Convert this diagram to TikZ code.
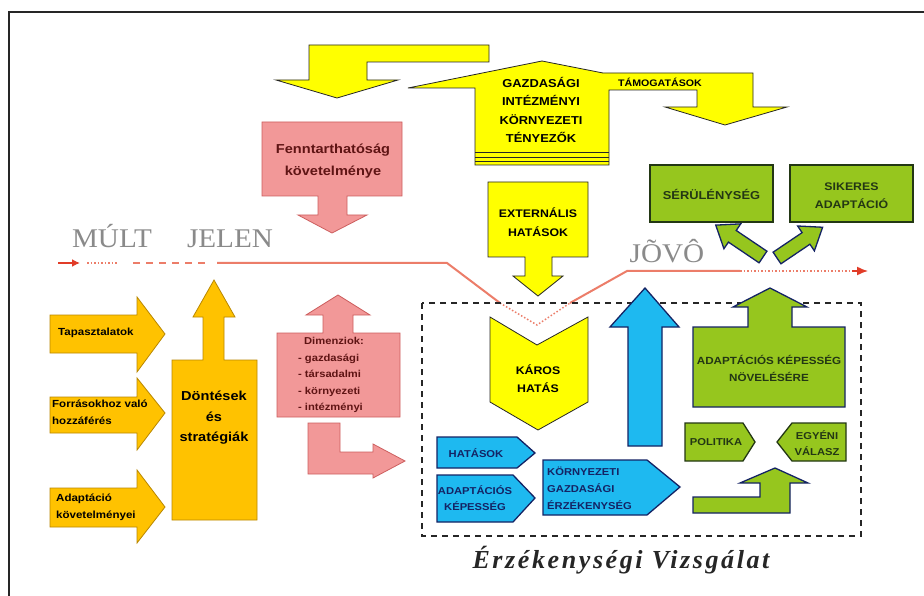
\documentclass[tikz,border=0pt]{standalone}
\usepackage{fontspec}
\usetikzlibrary{arrows.meta}
\setmainfont{Liberation Serif}
\setsansfont{Liberation Sans}
\newfontfamily\lab{Liberation Sans}[FakeStretch=1.12]
\newfontfamily\ttl{Liberation Serif}[LetterSpace=10]
\newfontfamily\erafont{Liberation Serif}[FakeStretch=1.08]
\definecolor{cyel}{RGB}{255,255,0}
\definecolor{cgold}{RGB}{255,194,0}
\definecolor{cgoldd}{RGB}{185,135,0}
\definecolor{cpink}{RGB}{242,152,152}
\definecolor{cpinkd}{RGB}{205,95,95}
\definecolor{cblue}{RGB}{30,185,240}
\definecolor{cnavy}{RGB}{20,35,100}
\definecolor{cgreen}{RGB}{150,198,30}
\definecolor{cgreend}{RGB}{35,55,20}
\definecolor{cline}{RGB}{236,125,105}
\definecolor{cred}{RGB}{225,60,40}
\definecolor{cgray}{RGB}{138,138,138}
\definecolor{ctxtp}{RGB}{95,20,20}
\begin{document}
\begin{tikzpicture}[x=1pt,y=-1pt,
  ybox/.style={fill=cyel,draw=black!85,line width=0.8},
  goldbox/.style={fill=cgold,draw=cgoldd,line width=0.8},
  pbox/.style={fill=cpink,draw=cpinkd,line width=0.8},
  bluebox/.style={fill=cblue,draw=cnavy,line width=1.3},
  grbox/.style={fill=cgreen,draw=cgreend,line width=1.3},
  grarr/.style={fill=cgreen,draw=cnavy,line width=1.3},
  tline/.style={draw=cline,line width=2},
  txt/.style={inner sep=0,align=center,font=\lab\bfseries\fontsize{#1}{#1}\selectfont},
  era/.style={inner sep=0,anchor=base,text=cgray,font=\erafont\fontsize{27}{27}\selectfont}]
\useasboundingbox (0,0) rectangle (924,596);
\fill[white] (0,0) rectangle (924,596);
% frame
\draw[black!85,line width=2] (9,610) -- (9,12) -- (940,12);

% top left yellow arrow
\draw[ybox] (489,45) -- (309,45) -- (309,80) -- (276,80) -- (337,98) -- (398,80) -- (367,80) -- (367,62) -- (489,62) -- cycle;
% central yellow up arrow with TAMOGATASOK arrow
\draw[ybox] (475,165) -- (475,88) -- (408,88) -- (542,61) -- (603,73) -- (753,73) -- (753,107) -- (787,107) -- (725,125) -- (665,107) -- (697,107) -- (697,90) -- (609,90) -- (609,165) -- cycle;
\draw[black!85,line width=0.8] (475,152) -- (609,152) (475,157) -- (609,157) (475,161) -- (609,161);
\node[txt=11.5,text=black,font=\lab\bfseries\fontsize{11.5}{18.5}\selectfont] (gazd) at (541,110) {GAZDASÁGI\\INTÉZMÉNYI\\KÖRNYEZETI\\TÉNYEZŐK};
\node[txt=9.5,text=black] (tam) at (660,82) {TÁMOGATÁSOK};

% Fenntarthatosag
\draw[pbox] (262,122) -- (402,122) -- (402,196) -- (347,196) -- (347,215) -- (367,215) -- (332,233) -- (298,215) -- (318,215) -- (318,196) -- (262,196) -- cycle;
\node[txt=13,text=ctxtp,font=\lab\bfseries\fontsize{13}{21.5}\selectfont] (fennt) at (333,161) {Fenntarthatóság\\követelménye};

% externalis
\draw[ybox] (488,182) -- (588,182) -- (588,257) -- (552,257) -- (552,276) -- (563,276) -- (538,296) -- (513,276) -- (525,276) -- (525,257) -- (488,257) -- cycle;
\node[txt=11,text=black,font=\lab\bfseries\fontsize{11}{19}\selectfont] (ext) at (538,222) {EXTERNÁLIS\\HATÁSOK};

% green top boxes
\draw[grbox] (650,165) rectangle (773,222);
\node[txt=11.5,text=cgreend] (ser) at (711.5,194) {SÉRÜLÉNYSÉG};
\draw[grbox] (790,165) rectangle (913,222);
\node[txt=11,text=cgreend,font=\lab\bfseries\fontsize{11}{18}\selectfont] (sik) at (851.5,196) {SIKERES\\ADAPTÁCIÓ};

% timeline
\node[era] (mult) at (112,248) {MÚLT};
\node[era] (jelen) at (230,248) {JELEN};
\node[era] (jovo) at (667,262) {JÕVÔ};
\coordinate (t0) at (58,263);
\coordinate (t1) at (80,263);
\draw[cred,line width=2,-{Latex[length=8pt,width=8pt]}] (t0) -- (t1);
\draw[cline,line width=1.5,dotted] (87,263) -- (118,263);
\draw[cline,line width=2.2,dash pattern=on 7pt off 6pt] (133,263) -- (205,263);
\draw[tline] (217,263) -- (447,263) -- (500,303);
\draw[cline,line width=1.5,dotted] (500,303) -- (537,325) -- (570,303);
\draw[tline] (570,303) -- (627,271) -- (740,271);
\coordinate (tend) at (868,271);
\draw[cline,line width=1.5,dotted] (740,271) -- (855,271);
\draw[cred,line width=1.5,-{Latex[length=11pt,width=9pt]}] (852,271) -- (tend);

% green diagonal arrows
\begin{scope}[shift={(763,257)},rotate=146]
\draw[grarr] (0,-7) -- (37,-7) -- (37,-15) -- (57,0) -- (37,15) -- (37,7) -- (0,7) -- cycle;
\end{scope}
\begin{scope}[shift={(777,258)},rotate=34]
\draw[grarr] (0,-7) -- (35,-7) -- (35,-15) -- (55,0) -- (35,15) -- (35,7) -- (0,7) -- cycle;
\end{scope}

% dashed box
\draw[black!85,line width=1.2,dash pattern=on 6pt off 5pt] (422,303) rectangle (861,536);

% karos hatas
\draw[ybox] (490,317) -- (537,345) -- (588,317) -- (588,402) -- (538,430) -- (490,402) -- cycle;
\node[txt=11,text=black,font=\lab\bfseries\fontsize{11}{18}\selectfont] (karos) at (538,379) {KÁROS\\HATÁS};

% blue up arrow
\draw[bluebox] (628,446) -- (628,327) -- (610,327) -- (645,288) -- (679,327) -- (662,327) -- (662,446) -- cycle;

% green big arrow
\draw[grarr] (693,407) -- (693,327) -- (748,327) -- (748,307) -- (733,307) -- (770,288) -- (807,307) -- (792,307) -- (792,327) -- (845,327) -- (845,407) -- cycle;
\node[txt=10.4,text=cgreend,font=\lab\bfseries\fontsize{10.4}{17}\selectfont] (adkep) at (769,368) {ADAPTÁCIÓS KÉPESSÉG\\NÖVELÉSÉRE};

% politika / egyeni valasz
\draw[grbox] (685,423) -- (743,423) -- (755,442) -- (743,461) -- (685,461) -- cycle;
\node[txt=10,text=cgreend] (pol) at (716,442) {POLITIKA};
\draw[grbox] (846,423) -- (792,423) -- (777,442) -- (792,461) -- (846,461) -- cycle;
\node[txt=10,text=cgreend,font=\lab\bfseries\fontsize{10}{16}\selectfont] (egy) at (817,443) {EGYÉNI\\VÁLASZ};

% green bent arrow
\draw[grarr] (693,497) -- (760,497) -- (760,483) -- (740,483) -- (775,468) -- (808,483) -- (790,483) -- (790,513) -- (693,513) -- cycle;

% blue pentagons
\draw[bluebox] (437,437) -- (517,437) -- (535,453) -- (517,468) -- (437,468) -- cycle;
\node[txt=10,text=cnavy] (hat) at (476,453) {HATÁSOK};
\draw[bluebox] (437,475) -- (513,475) -- (535,498) -- (513,522) -- (437,522) -- cycle;
\node[txt=10,text=cnavy,font=\lab\bfseries\fontsize{10}{16}\selectfont] (adk) at (475,498) {ADAPTÁCIÓS\\KÉPESSÉG};
\draw[bluebox] (543,460) -- (647,460) -- (680,487) -- (647,515) -- (543,515) -- cycle;
\node[txt=10,text=cnavy,align=left,anchor=west,font=\lab\bfseries\fontsize{10}{17}\selectfont] (kge) at (547,488) {KÖRNYEZETI\\GAZDASÁGI\\ÉRZÉKENYSÉG};

% title
\node[inner sep=0,text=black!85,font=\ttl\bfseries\itshape\fontsize{26}{26}\selectfont] (erz) at (621,560) {Érzékenységi Vizsgálat};

% left gold arrows
\draw[goldbox] (50,315) -- (137,315) -- (137,297) -- (165,334) -- (137,372) -- (137,353) -- (50,353) -- cycle;
\node[txt=10.3,text=black,anchor=west] (tap) at (58,333) {Tapasztalatok};
\draw[goldbox] (50,397) -- (137,397) -- (137,378) -- (165,413) -- (137,450) -- (137,433) -- (50,433) -- cycle;
\node[txt=10.3,text=black,anchor=west,align=left,font=\lab\bfseries\fontsize{10.3}{17}\selectfont] (forr) at (52,412) {Forrásokhoz való\\hozzáférés};
\draw[goldbox] (50,488) -- (137,488) -- (137,470) -- (165,507) -- (137,543) -- (137,527) -- (50,527) -- cycle;
\node[txt=10.3,text=black,anchor=west,align=left,font=\lab\bfseries\fontsize{10.3}{17}\selectfont] (adap) at (56,507) {Adaptáció\\követelményei};

% dontesek
\draw[goldbox] (172,520) -- (172,360) -- (203,360) -- (203,317) -- (193,317) -- (214,280) -- (235,317) -- (224,317) -- (224,360) -- (257,360) -- (257,520) -- cycle;
\node[txt=13,text=black,font=\lab\bfseries\fontsize{13}{20.5}\selectfont] (dont) at (214,418) {Döntések\\és\\stratégiák};

% dimenziok
\draw[pbox] (277,417) -- (277,333) -- (323,333) -- (323,315) -- (306,315) -- (338,295) -- (370,315) -- (353,315) -- (353,333) -- (400,333) -- (400,417) -- cycle;
\node[txt=10,text=ctxtp,align=left,font=\lab\bfseries\fontsize{10}{16.5}\selectfont] (dim) at (331,375) {\hspace{6pt}Dimenziok:\\- gazdasági\\- társadalmi\\- környezeti\\- intézményi};

% pink bent arrow
\draw[pbox] (308,423) -- (340,423) -- (340,452) -- (373,452) -- (373,444) -- (405,461) -- (373,478) -- (373,474) -- (308,474) -- cycle;
\end{tikzpicture}
\end{document}
